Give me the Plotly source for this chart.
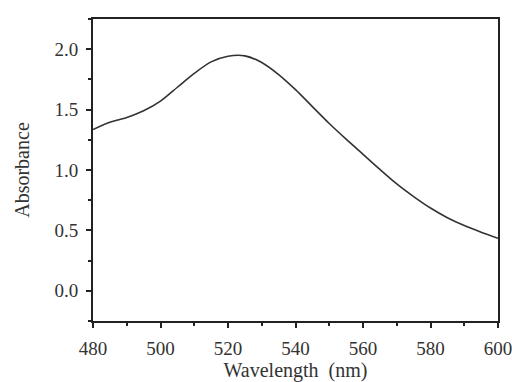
import plotly.graph_objects as go

wavelength = [480, 485, 490, 495, 500, 505, 510, 515, 520, 525, 530, 535, 540,
              545, 550, 555, 560, 565, 570, 575, 580, 585, 590, 595, 600]
absorbance = [1.335, 1.395, 1.435, 1.49, 1.57, 1.685, 1.80, 1.895, 1.942, 1.945, 1.89,
              1.79, 1.665, 1.525, 1.385, 1.255, 1.13, 1.005, 0.885, 0.78, 0.685, 0.605,
              0.54, 0.485, 0.435]
x_ticks = [480, 500, 520, 540, 560, 580, 600]
y_ticks = [0.0, 0.5, 1.0, 1.5, 2.0]
y_tick_text = ["0.0", "0.5", "1.0", "1.5", "2.0"]

FONT = "Liberation Serif"
TXT = "#333333"

fig = go.Figure(go.Scatter(
    x=wavelength, y=absorbance, mode="lines",
    line=dict(color="#333333", width=1.6, shape="spline", smoothing=0.8),
    showlegend=False,
))

axis_common = dict(
    showline=True, linecolor="#222222", linewidth=2, mirror=True,
    ticks="outside", tickcolor="#222222", tickwidth=1.5,
    showgrid=False, zeroline=False, automargin=False,
    ticklabeloverflow="allow",
    tickfont=dict(family=FONT, size=19, color=TXT),
)

fig.update_xaxes(
    range=[480, 600], tickvals=x_ticks, ticklen=5,
    minor=dict(ticks="outside", dtick=10, tick0=480, ticklen=3, tickwidth=1.5,
               tickcolor="#222222", showgrid=False),
    title=dict(text="Wavelength\u00a0\u00a0(nm)", font=dict(family=FONT, size=20, color=TXT),
               standoff=7),
    ticklabelstandoff=4,
    **axis_common,
)
fig.update_yaxes(
    range=[-0.25, 2.25], tickvals=y_ticks, ticktext=y_tick_text, ticklen=5,
    minor=dict(ticks="outside", dtick=0.25, tick0=0, ticklen=3, tickwidth=1.5,
               tickcolor="#222222", showgrid=False),
    title=dict(text="Absorbance", font=dict(family=FONT, size=20, color=TXT),
               standoff=19),
    ticklabelstandoff=4,
    **axis_common,
)

fig.update_layout(
    width=512, height=382,
    margin=dict(l=93, r=14, t=19, b=61),
    paper_bgcolor="white", plot_bgcolor="white",
)

fig.write_html("out.html")
